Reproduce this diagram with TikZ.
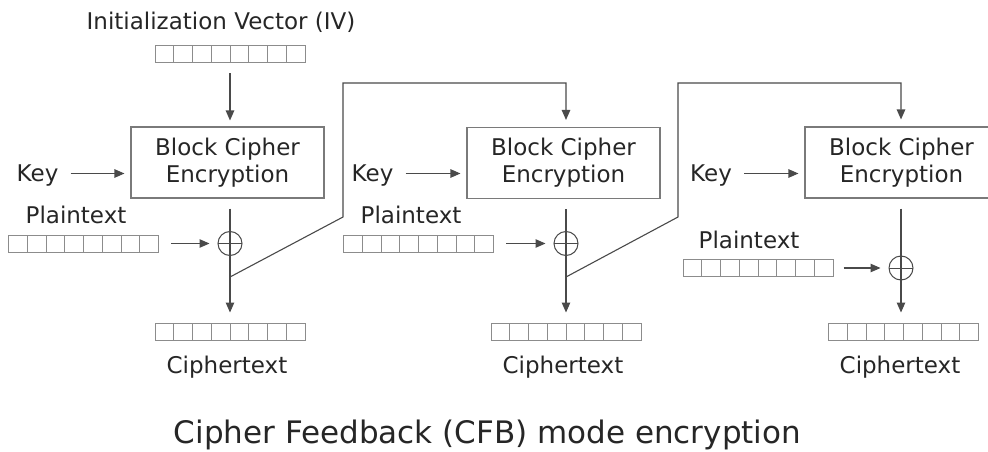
\documentclass[tikz,border=0pt]{standalone}
\usepackage{fontspec}
\setmainfont{DejaVu Sans}
\usetikzlibrary{arrows.meta,calc}
\definecolor{txt}{HTML}{262626}
\definecolor{ln}{HTML}{4A4A4A}
\definecolor{bx}{HTML}{7A7A7A}
\definecolor{rg}{HTML}{8C8C8C}
\begin{document}
\begin{tikzpicture}[x=1pt,y=-1pt,
  lbl/.style={inner sep=0pt,text=txt,font=\fontsize{23}{24}\selectfont},
  keylbl/.style={lbl,text depth=0pt},
  blk/.style={draw=bx,line width=1.1pt,minimum width=193pt,minimum height=71pt,inner sep=0pt,
    align=center,text=txt,font=\fontsize{23}{27}\selectfont},
  reg/.style={draw=rg,line width=1pt,minimum width=150pt,minimum height=17pt,inner sep=0pt,
    path picture={\foreach \k in {1,...,7}{
      \draw[rg,line width=1pt] ([xshift=\k*18.75pt]path picture bounding box.south west) --
        ([xshift=\k*18.75pt]path picture bounding box.north west);}}},
  xor/.style={draw=ln,circle,line width=1pt,minimum size=24pt,inner sep=0pt,
    path picture={\draw[ln,line width=1pt] (path picture bounding box.west) -- (path picture bounding box.east);
      \draw[ln,line width=1pt] (path picture bounding box.north) -- (path picture bounding box.south);}},
  line/.style={draw=ln,line width=1.1pt},
  arr/.style={line,-{Triangle[length=10pt,width=8.5pt]}}]
\useasboundingbox (0,0) rectangle (988,452);
\clip (0,0) rectangle (988,452);

% IV
\node[lbl] (ivl) at (221,22) {Initialization Vector (IV)};
\node[reg] (iv) at (230,54.5) {};

% blocks
\node[blk] (b1) at (227.5,162.5) {Block Cipher\\Encryption};
\node[blk] (b2) at (563.5,163) {Block Cipher\\Encryption};
\node[blk] (b3) at (901.5,162.5) {Block Cipher\\Encryption};

% keys
\node[keylbl] (k1) at (37.5,173.5) {Key};
\node[keylbl] (k2) at (372.5,173.5) {Key};
\node[keylbl] (k3) at (711,173.5) {Key};

% plaintexts
\node[lbl] (pl1) at (76,214.5) {Plaintext};
\node[lbl] (pl2) at (411,214.5) {Plaintext};
\node[lbl] (pl3) at (749,239.5) {Plaintext};
\node[reg] (p1) at (83.5,243.5) {};
\node[reg] (p2) at (418.5,243.5) {};
\node[reg] (p3) at (758,268) {};

% xors
\node[xor] (x1) at (230,243.5) {};
\node[xor] (x2) at (566,243.5) {};
\node[xor] (x3) at (901,268) {};

% ciphertexts
\node[reg] (c1) at (230,331.5) {};
\node[reg] (c2) at (566,331.5) {};
\node[reg] (c3) at (903.5,331.5) {};
\node[lbl] (cl1) at (227,367) {Ciphertext};
\node[lbl] (cl2) at (563,367) {Ciphertext};
\node[lbl] (cl3) at (900,367) {Ciphertext};

% title
\node[inner sep=0pt,text=txt,font=\fontsize{31}{36}\selectfont] (title) at (487.5,435) {Cipher Feedback (CFB) mode encryption};

% IV -> block 1
\draw[arr,shorten <=10pt,shorten >=6pt] (iv.south) -- (iv.south |- b1.north);

% key arrows
\draw[arr,shorten <=12pt,shorten >=6pt] (k1.east) -- (k1.east -| b1.west);
\draw[arr,shorten <=12pt,shorten >=6pt] (k2.east) -- (k2.east -| b2.west);
\draw[arr,shorten <=12pt,shorten >=6pt] (k3.east) -- (k3.east -| b3.west);

% plaintext arrows
\draw[arr,shorten <=12pt,shorten >=8pt] (p1.east) -- (x1.west);
\draw[arr,shorten <=12pt,shorten >=8pt] (p2.east) -- (x2.west);
\draw[arr,shorten <=10pt,shorten >=8pt] (p3.east) -- (x3.west);

% data lines through xor
\draw[arr,shorten <=10pt,shorten >=10pt] (x1 |- b1.south) -- (x1 |- c1.north);
\draw[arr,shorten <=10pt,shorten >=10pt] (x2 |- b2.south) -- (x2 |- c2.north);
\draw[arr,shorten <=10pt,shorten >=10pt] (x3 |- b3.south) -- (x3 |- c3.north);

% feedback paths
\coordinate (f1) at (230,277);
\coordinate (g1) at (343,217);
\coordinate (h1) at (343,83);
\coordinate (f2) at (566,277);
\coordinate (g2) at (678,217);
\coordinate (h2) at (678,83);
\draw[arr,shorten >=7pt] (f1) -- (g1) -- (h1) -- (h1 -| x2) -- (x2 |- b2.north);
\draw[arr,shorten >=7pt] (f2) -- (g2) -- (h2) -- (h2 -| x3) -- (x3 |- b3.north);
\end{tikzpicture}
\end{document}
